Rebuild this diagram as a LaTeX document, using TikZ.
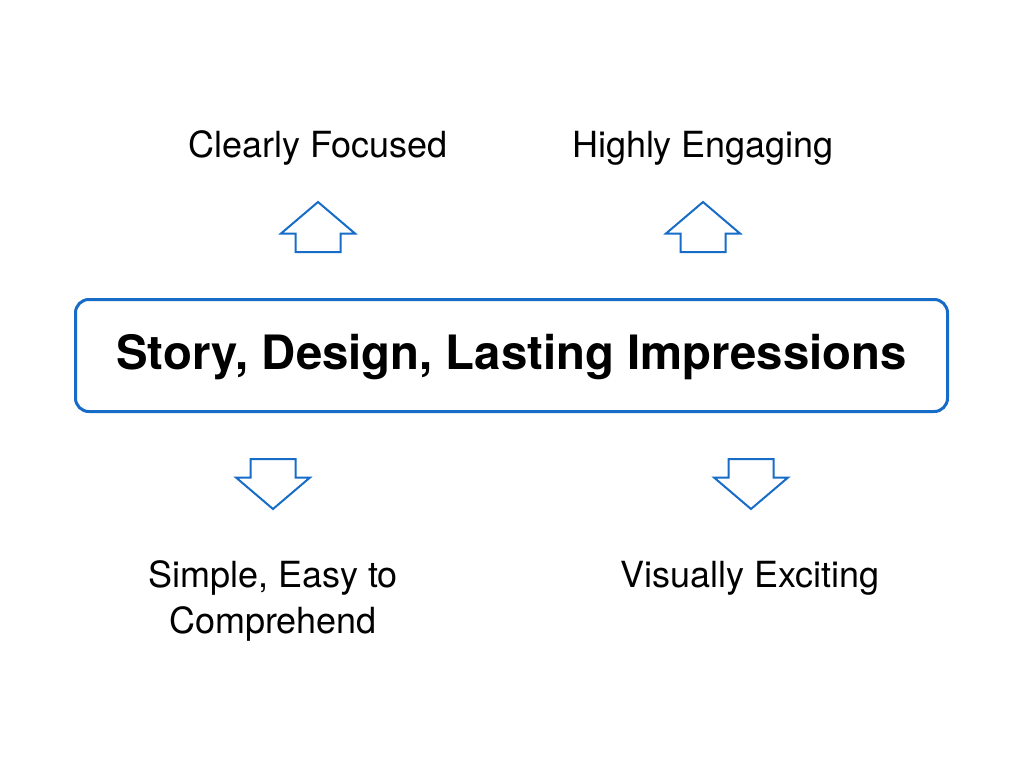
\documentclass[tikz,border=0pt]{standalone}
\usepackage{fontspec}
\setmainfont{TeX Gyre Heros}
\definecolor{keyblue}{RGB}{22,108,198}
\tikzset{
  mainbox/.style  = {shape=rectangle, rounded corners=10pt,
                     draw=keyblue, line width=2.25pt,
                     minimum width=654pt, minimum height=84pt,
                     inner sep=0pt, text height=26pt, text depth=5.5pt,
                     font=\fontsize{35.5}{40}\selectfont\bfseries},
  goal/.style     = {align=center, anchor=base, inner sep=0pt,
                     font=\fontsize{27}{34.5}\selectfont},
  hollow/.style   = {draw=keyblue, line width=1.5pt, fill=white,
                     line join=miter},
  uparrow/.pic    = {\path[hollow] (0,0) -- (37,31.5) -- (22.5,31.5)
                       -- (22.5,50) -- (-22.5,50) -- (-22.5,31.5)
                       -- (-37,31.5) -- cycle;},
  downarrow/.pic  = {\path[hollow] (0,0) -- (37,-31.5) -- (22.5,-31.5)
                       -- (22.5,-50) -- (-22.5,-50) -- (-22.5,-31.5)
                       -- (-37,-31.5) -- cycle;}
}
\begin{document}
\begin{tikzpicture}
  [
    x = 0.75pt,
    y = -0.75pt
  ]
  \useasboundingbox (0,0) rectangle (1024,768);
  % centre box
  \node [mainbox] (story) at (511.5,355.5) {Story, Design, Lasting Impressions};
  % goals above
  \node [goal] (focused)  at (318,157) {Clearly Focused};
  \node [goal] (engaging) at (703,157) {Highly Engaging};
  % goals below (base = last line)
  \node [goal] (simple)   at (273,633) {Simple, Easy to\\Comprehend};
  \node [goal] (exciting) at (750,587) {Visually Exciting};
  % hollow arrows
  \pic at (318,202) {uparrow};
  \pic at (703,202) {uparrow};
  \pic at (273,509) {downarrow};
  \pic at (751,509) {downarrow};
\end{tikzpicture}
\end{document}
